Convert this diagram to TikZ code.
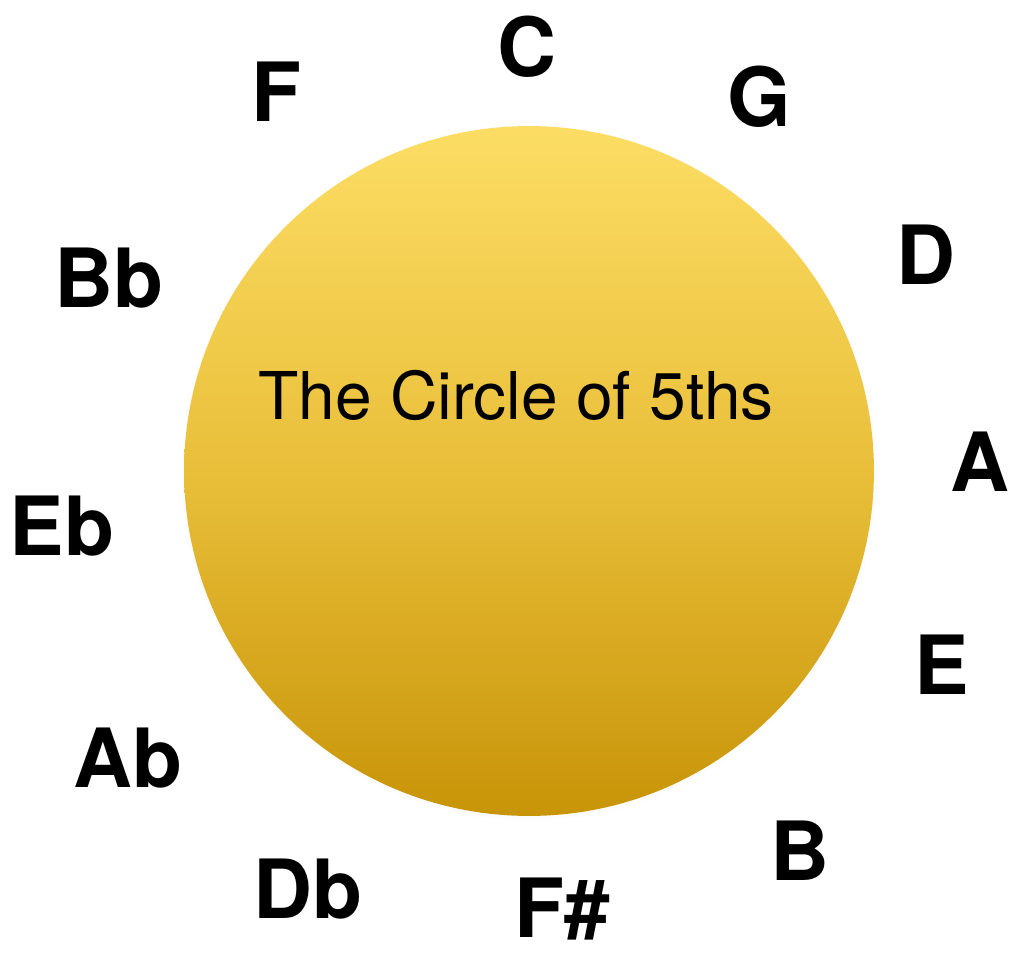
\documentclass[tikz,border=0pt]{standalone}
\usepackage{fontspec}
\setmainfont{TeX Gyre Heros}
\usepackage{tikz}
\usetikzlibrary{shadows}

\definecolor{goldtop}{RGB}{252,221,100}
\definecolor{goldmid}{RGB}{233,191,58}
\definecolor{goldbot}{RGB}{200,148,8}

\tikzset{
  keylabel/.style={font=\bfseries\fontsize{46.5}{47}\selectfont,inner sep=0pt,
                   text height=33.5pt,text depth=0pt,anchor=center},
  wheel/.style={circle,minimum size=13.8cm,inner sep=0pt,
                top color=goldtop,bottom color=goldbot,middle color=goldmid,
                circular drop shadow={shadow xshift=0pt,shadow yshift=-1pt,
                                      shadow scale=1.01,opacity=0.25}}
}

\begin{document}
\begin{tikzpicture}[x=0.02cm,y=-0.02cm]
  \useasboundingbox (0,0) rectangle (1013,955);
  % the disc
  \node[wheel] (disc) at (529,471) {};
  \node[font=\fontsize{37.5}{38}\selectfont,inner sep=0pt,
        text height=27pt,text depth=0pt] (title) at (516,396) {The Circle of 5ths};
  % keys round the disc
  \foreach \n/\t/\x/\y in {C/C/527/47, G/G/759/97, D/D/926/255, A/A/980/462,
                           E/E/942/665, B/B/800/851, Fs/F\#/562/908, Db/Db/308/889,
                           Ab/Ab/128/758, Eb/Eb/62/526, Bb/Bb/109/278, F/F/276/92}
    \node[keylabel] (key\n) at (\x,\y) {\t};
\end{tikzpicture}
\end{document}
